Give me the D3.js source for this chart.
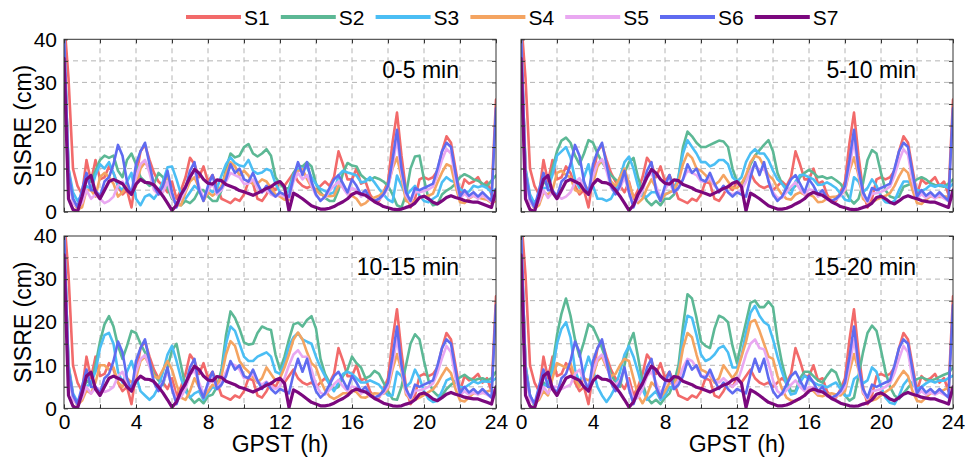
<!DOCTYPE html>
<html>
<head>
<meta charset="utf-8">
<script src="https://cdn.jsdelivr.net/npm/d3@7"></script>
<style>
  body { margin: 0; background: #fff; }
  svg text { font-family: "Liberation Sans", Arial, sans-serif; fill: #000; }
</style>
</head>
<body>
<svg id="chart" width="965" height="459"></svg>
<script>
// Sample epochs: every 15 minutes over one GPST day
const hours = d3.range(97).map(i => i / 4);

const seriesNames = ["S1", "S2", "S3", "S4", "S5", "S6", "S7"];
const panelLabels = ["0-5 min", "5-10 min", "10-15 min", "15-20 min"];
const yTickLabels = [0, 10, 20, 30, 40];
const xTickLabels = [0, 4, 8, 12, 16, 20, 24];

// SISRE (cm) series; S1, S6 and S7 are common to all four prediction windows
const s1 = [45,31,10,6,4,12,7,12,7.5,8,
  10.5,9,6,4,5,1,8,14,15.5,12,
  9,7,6,4.5,7,3,5,8,12.5,11,
  8,10.5,7,8.5,6,3,2.5,2,3,2.5,
  4,7,6.5,3,2.5,4,6,5,7,6,
  7.5,9,7,6,5.5,6,5,6,7,6,
  8,14,11,7.5,7.5,10,6.5,7,4,2.5,
  2.5,4.5,7,16,23,13,5,1,3,7.5,
  8,7.5,8,9.5,14,17.5,16,10,4,7.5,
  6.5,7,8,6,7,4,26];

const s6 = [42,9,3,1,5,9,5,5,3.5,7,
  8,11,15.5,13,7,4,11,14,16,11,
  6,4,6,9.5,4.5,1,4,5.5,9.5,11.5,
  5,2.5,6,8.5,4.5,5.5,7.5,11,9,10,
  7.5,7,9,6.5,4.5,6,4.5,3.5,4.5,4,
  3.5,8,11.5,8.5,11.5,7,4,2.5,3.5,5.5,
  7.5,8.5,6.5,4.5,7.5,6,4,5,3,2.5,
  3,4,6,12,19,10,4.5,2.5,5.5,5,
  5.5,6,6.5,10,14,16,15,9,3.5,5,
  3.7,4.5,3.5,4.5,3.5,2.5,24];

const s7 = [35.6,3,0.5,0,3.5,7.5,8.4,4.5,3,5,
  7,7.5,7,6.5,5,4,6.4,7.5,6.8,6.7,
  6.2,5,3.6,2,0.3,1.5,4,5.8,8,9.8,
  9,7.5,6.6,6.4,7.4,7.2,6.3,5.9,5.5,4.9,
  4.6,4.2,3.8,4.3,4.8,5.4,5.8,6.6,7,5.8,
  0.2,4.3,3.7,3,2.2,1.4,1,0.6,0.6,0.8,
  1.2,1.8,2.3,3,4,4.5,4.1,3.8,3.1,2.3,
  1.8,1.2,0.9,0.6,0.5,0.6,1,1.3,2,3.3,
  3.6,3,2.2,1.8,2.5,3.3,3.7,3.3,3,2.6,
  2.4,2.2,2.2,1.8,1.4,1,5];

// S2 per window (a: 0-5, b: 5-10, c: 10-15, d: 15-20 min)
const s2a = [40,10,3,1,4,8,7,9.5,12,13,
  12.5,13,9.5,8,12,13.5,11,8,7,6,
  6.5,9,8,5.5,3,2,1.5,2.5,2,3,
  5,5,3.5,2.5,2.5,5,10,13.5,12.6,13,
  15,15.7,13.5,12.8,13.5,14.5,13,8,6.5,5.3,
  5.5,9,10.7,10.5,11.5,10.5,6.5,4.5,3.2,2.5,
  2.5,5,9,11.3,10.7,10.5,8.5,7.6,7.3,8,
  7.6,7,6,4,1.5,1,4,10,12.8,13,
  7.5,3,1.5,1.8,4,4.9,5.5,6.5,8,8.7,
  8.2,7.5,7.2,6.5,6,7.2,8.4];
const s2b = [40,10,3,0.8,3.5,7,6,10,14,16.5,
  17.2,16,13,11,13.5,16.6,16,13.5,11.5,10,
  8.5,7.5,6.5,9,11.5,12.5,8,4.5,2.5,1.5,
  2.5,1.5,3,3,4,8,15,18.6,17.5,16,
  15,15,15.5,16,16.5,16.3,15,10,7,6.5,
  8,11,13,14.3,15.5,16.6,14,9,6.5,5.5,
  5,6,8,9,9.7,9,8,8.2,7.7,8,
  7.3,6.5,5,3,1.9,3,6.6,12,14.3,13.5,
  9,5,3.5,3.2,3.5,5.8,6.2,6.6,7.5,8,
  7.5,6.6,6.2,6,5.8,6.5,7.5];
const s2c = [40,10,3,0.7,3,6.5,5.5,10,15.5,19.5,
  21.4,19,14.5,11.5,14.5,18,17.5,15,13,10.5,
  8,6.5,5.5,9.5,13.5,15,10,5,2.5,1.3,
  2.2,1.2,2.8,3.2,5,9,17,22.5,21,18.5,
  15.3,14.8,15,17.5,19,18.5,18.2,12.5,9,12,
  16,19.5,19.9,19,20.5,21.4,18.5,11.5,8,6,
  4.5,5,7.5,9,12,10.5,9.5,7,7.5,8.7,
  8,6,4,2.2,2,5,10,15,17.2,16,
  11,6.5,4,3,3,4.5,5.5,6.2,7.2,7.8,
  7,6.5,6.8,7,6.5,7,8.5];
const s2d = [40,10,3,0.5,3,6,5,10,17,22,
  25.5,21.5,16,12,15.5,19.5,18.8,16.5,14,11,
  8,6,5,10,15,17.5,12,6,2.5,1.2,
  2,1,2.5,3.5,6,10,19,26.5,25.5,21,
  15.5,14.5,14,18.5,21.5,21,20,14.5,10.5,15.5,
  20,24.5,25,23.5,23.5,24.8,23.5,16,10.5,6.5,
  4,4,7,8.5,8.5,7.5,6.5,6,7.6,9,
  8.3,5.5,3,1.8,2.5,7.5,13,17.5,19.2,18,
  13.5,8.5,5,3,2.2,3.5,4.8,6,6.8,7.2,
  6.8,6.4,6.8,7.3,7.8,8.2,9.5];

// S3 per window
const s3a = [40,10,4.5,2.5,4,6,5,8.5,11,10,
  11.5,9,6,5,7,9,3,1.5,3.5,4,
  3,4.5,7,10.3,10.5,7.5,4,3,4.5,6,
  5,3,5.3,4.5,5.5,8.4,11,12.6,11.3,10.7,
  10.5,12,9.5,8.8,9.1,9.9,9.5,6.5,4.5,3.7,
  5,8.5,9.9,10,10.3,8,6.4,5.3,4.8,4.1,
  4.5,8.4,9.5,9.1,8.8,8.4,6.8,7,8,6.8,
  5.3,4,2.8,2.2,8.4,6,3.7,4.9,6,3.7,
  2.5,2.2,3,3.7,6.8,8,7.2,6.8,5.3,4.5,
  4.7,6,5.7,6,5.5,4.5,5.3];
const s3b = [40,10,4,2,3.5,5.5,5.5,8.5,13,14,
  15,12.5,7.5,5.5,8,11,6,3,3,2.5,
  3,5,8,11.5,12.8,10,6,3.5,3.5,4.5,
  4.5,2.5,4,4.5,5,8,13.5,16.6,15,13.5,
  11.5,11.5,10.5,11,12,12,11,8,7,8,
  11.5,13.5,14.5,13.5,13.5,12,9.5,7.5,6.5,5,
  4,7,8.5,8.5,8,7.5,6.2,6.3,6.8,6.2,
  5.5,4.2,2.8,2.5,8,7,4.5,5.5,7.5,6,
  3.5,2.2,2,2.5,5,7,7,6.2,5,4.8,
  5.3,6.2,5.8,6.2,6,5.5,6.5];
const s3c = [40,10,3.5,1.5,3.5,5,6,8.5,14,17,
  17.5,15,8.5,6,8.5,11,7.5,4,3,2,
  3,5,8.5,12.5,14.5,11,7,4,2.5,3.5,
  4,2,3.5,5,4.5,8,15,19,18,15,
  12,11,11,12,12.5,13,12,8.5,8,10.5,
  14.5,16.5,17.5,16,15.5,15,12,9.5,7.5,5.5,
  4,6,8,8.5,8,7,6,6,6.5,6,
  5.5,4.2,3,3,8.5,7.5,5,6,9,7,
  4,2.2,1.5,1.8,4,6.5,7,6,5,4.8,
  5.5,6.3,5.8,6.3,6.2,6.2,7];
const s3d = [40,10,3,1,3,5,6,8.5,15,18.5,
  20,16.5,9,6,8.5,12,9,5,3,1.5,
  3,5,8.5,12.5,14.5,12,8.5,4.5,2,3,
  4,2,3,5,4.5,8,16.5,21.5,21,17,
  12.5,11,11.5,12.5,14,14.5,13,9.5,9.5,12.2,
  17.6,22.2,23.8,21.5,20,19.3,16,12,8.5,5.5,
  3.2,3.5,6,7.6,6.8,6,5.5,5.3,4.9,5.5,
  6,4.5,2.9,3,6.8,7.6,5.8,6.5,9.5,8.5,
  5,2.5,1.3,1,2.9,5.5,6.8,5.6,4.5,5,
  5.8,6.4,6,6.5,6.4,7,7.6];

// S4 per window
const s4a = [40,9,2.5,0.5,1,5,5,3.5,8,9,
  8,6.5,3.5,4.5,6,4,6,10,11.5,10,
  6.5,4,6,8.5,3.5,1.5,1.5,4.5,7,8,
  5.5,2.5,4.5,3.7,4.5,6,9,11.5,10.5,8.4,
  9.5,8.4,6.4,6.5,7.5,7,5.5,4,3.5,2.8,
  2.8,8,9.4,9.9,7.6,5.7,5,4,3.7,3.6,
  3.7,6,6,4.5,3.7,3,1.5,2,3,3.3,
  3.7,4.5,6,10,12.6,8,2.5,2,2.5,3.2,
  3.5,3.7,4.2,6.8,9.1,11,10.5,6,2.2,2,
  3,3.7,3.3,3,2.8,2,2.5];
const s4b = [40,9,2.5,0.7,1.5,4.5,4,5,9,9.5,
  8.5,8,5,4.5,6.5,5,6.5,10.5,12,10,
  7,6,8,10,6.5,3.5,2,3,5.5,7.5,
  5.5,2.5,4,4.5,5,7,11,13.5,12.5,10,
  9.5,8.5,7,6.2,7,8.5,7,5.5,5.5,6.5,
  8.5,11.5,13,12.5,10.5,8.5,7.5,5.5,4,3,
  2.8,4,4.5,4,4,3.5,2.2,2.3,3,3.4,
  3.5,3.8,5,9.5,12.6,8.5,3,2.1,2.2,2.8,
  3.2,3.7,4.3,6,8.2,10,9,5,2,1.8,
  2.8,3.6,3.5,3.4,3.5,3.5,3.5];
const s4c = [40,9,2.5,0.8,1.8,4.2,3.5,6,10,10,
  9,9.5,6,5,7,6,7,11,12,10,
  7.5,7,9,11,9,5.5,2.5,2,4,7,
  5,2.5,4,5.5,5.2,7.5,12.5,15.6,14.5,11,
  9.5,8.5,7.2,6,7,9.5,8,6.5,7,9.5,
  12.5,16,17.6,16,13,10.5,9.5,6.5,4.2,2.8,
  2.2,2.8,3.5,3.5,4.2,3.8,2.6,2.5,3.1,3.5,
  3.4,3.4,4.5,9,12.6,8.8,3.2,2.1,2,2.5,
  3.1,3.8,4.4,5.8,7.7,9.4,8.2,4.5,1.9,1.6,
  2.6,3.5,3.6,3.6,3.9,4.2,4];
const s4d = [40,9,2.5,1,2,4,3,7,10.5,10,
  9.5,10.5,7,5,7,6.5,7.5,11,12,9.5,
  7.5,8,10,11.5,11,7,3,1.2,3,6,
  5,2.5,4,6,5.5,8,14,17.5,16.5,12.5,
  9,8.5,7.5,6,7,10,8.5,7,8.5,12,
  15.5,20,20.5,18,15,12,11.5,7.5,4.5,2.5,
  1.8,1.6,2.4,3,4.5,4,3,2.8,3.2,3.5,
  3.2,3,4,8.5,12.6,9,3.5,2.2,1.8,2.2,
  3,3.8,4.5,5.5,7.2,8.7,7.5,4,1.8,1.5,
  2.5,3.5,3.7,3.9,4.3,4.9,4.5];

// S5 per window
const s5a = [40,8,2,1,2,5,3,4,3,2,
  2.5,3.5,6,7,5,4,8,11,12,9,
  5,4,4.5,7,3.5,1.5,3,5,8.5,9.5,
  6,3,5,6.5,4,5,7,9,8.5,8,
  6.5,6.5,7.5,5.5,4.5,5,4,3.5,4,3.5,
  3.2,7,9,7.5,8.5,6,3.8,2.8,3.2,4.8,
  6,7,5.5,4,5.5,5,3.5,4.2,2.8,2.4,
  2.8,3.8,5.5,10.5,17,9,3.8,2.2,4.5,4.5,
  4.8,5.2,5.8,8.5,12,14.6,13.5,7.5,3,4.2,
  3.2,3.8,3,3.8,3,2.2,3];
const s5b = [40,8,2,1,2.2,5,3.2,4.5,3.8,3,
  3.5,4.5,6.8,7.8,5.5,4.5,8.2,11.2,12.2,9.5,
  5.5,4.5,5.5,8,4.5,1.8,2.8,4.8,8,9,
  6,3.2,5.2,6.8,4.5,5.5,7.5,9.5,9,8.5,
  7,7,7.8,6,5,5.5,4.5,4,4.5,5,
  7,9.5,11,9.5,10,7.5,4.5,3.2,3.2,4.5,
  5.8,6.8,5.2,4,5.2,4.9,3.5,4.1,2.8,2.4,
  2.8,3.7,5.2,10.2,16.5,9.2,3.8,2.2,4.2,4.3,
  4.6,5.1,5.8,8.4,11.8,14.5,13.2,7.2,3,4.1,
  3.2,3.8,3.1,3.8,3.1,2.4,3.2];
const s5c = [40,8,2,1,2.4,5,3.4,4.8,4.5,3.8,
  4.2,5,7.5,8.5,6,4.8,8.4,11.4,12.4,9.8,
  6,5,6,8.5,5,1.9,2.6,4.6,7.8,8.8,
  6,3.4,5.4,7,4.8,6,8.5,10.5,10,9,
  7,7.2,8,6.2,5.5,6.2,5.2,4.5,5.2,7,
  10,12.5,13.5,12,12,9,5.5,3.6,3.2,4.3,
  5.6,6.6,5.1,4,5.1,4.8,3.4,4,2.8,2.4,
  2.8,3.6,5.1,10.1,16.2,9.4,3.8,2.2,4.1,4.2,
  4.5,5,5.8,8.3,11.6,14.5,13,7.1,3,4,
  3.2,3.7,3.2,3.7,3.2,2.5,3.4];
const s5d = [40,8,2,1,2.5,5,3.5,5,5,4.5,
  5,5.5,8,9,6.5,5,8.5,11.5,12.5,10,
  6.5,5.5,6.5,9,5.5,2,2.5,4.5,7.5,8.5,
  6,3.5,5.5,7,5,6.5,9.5,11.5,11,9.5,
  7.5,7.5,8,6.5,6,7,6,5,6,9,
  12.5,15,16,14,13.7,10.5,6.5,4,3.2,4.2,
  5.5,6.5,5,4,5,4.8,3.4,4,2.8,2.5,
  2.8,3.6,5,10,16,9.5,3.8,2.2,4,4.2,
  4.5,5,5.8,8.2,11.5,14.5,13,7,3,4,
  3.2,3.7,3.2,3.8,3.2,2.6,3.5];

const colors = ["#f26a6a", "#5cb895", "#4bbef4", "#f4a461", "#e9a8f1", "#5f6bf0", "#7b087e"];
const widths = [2.6, 2.6, 2.6, 2.6, 2.6, 2.6, 3.2];

const panelW = 432, panelH = 172.4;
const panels = [
  { label: panelLabels[0], left: 64,  top: 39.3, series: [s1, s2a, s3a, s4a, s5a, s6, s7], yLabels: true,  xLabels: false },
  { label: panelLabels[1], left: 521, top: 39.3, series: [s1, s2b, s3b, s4b, s5b, s6, s7], yLabels: false, xLabels: false },
  { label: panelLabels[2], left: 64,  top: 236,  series: [s1, s2c, s3c, s4c, s5c, s6, s7], yLabels: true,  xLabels: true },
  { label: panelLabels[3], left: 521, top: 236,  series: [s1, s2d, s3d, s4d, s5d, s6, s7], yLabels: false, xLabels: true }
];

const svg = d3.select("#chart");
const FONT = '"Liberation Sans", Arial, sans-serif';

const x = d3.scaleLinear().domain([0, 24]).range([0, panelW]);
const y = d3.scaleLinear().domain([0, 40]).range([panelH, 0]);
const line = d3.line().x((d, i) => x(hours[i])).y(d => y(d));

panels.forEach((p, pi) => {
  const g = svg.append("g").attr("transform", `translate(${p.left},${p.top})`);

  // dashed grid
  g.append("g").selectAll("line.vg").data(d3.range(2, 24, 2)).join("line")
    .attr("x1", d => x(d)).attr("x2", d => x(d)).attr("y1", 0).attr("y2", panelH)
    .attr("stroke", "#b4b4b4").attr("stroke-width", 1).attr("stroke-dasharray", "5,4");
  g.append("g").selectAll("line.hg").data(d3.range(5, 40, 5)).join("line")
    .attr("x1", 0).attr("x2", panelW).attr("y1", d => y(d)).attr("y2", d => y(d))
    .attr("stroke", "#b4b4b4").attr("stroke-width", 1).attr("stroke-dasharray", "5,4");

  // series
  const clipId = "clip" + pi;
  g.append("clipPath").attr("id", clipId).append("rect")
    .attr("x", 0).attr("y", 0).attr("width", panelW).attr("height", panelH);
  const lines = g.append("g").attr("clip-path", `url(#${clipId})`);
  p.series.forEach((vals, si) => {
    lines.append("path").datum(vals)
      .attr("d", line)
      .attr("fill", "none")
      .attr("stroke", colors[si])
      .attr("stroke-width", widths[si])
      .attr("stroke-linejoin", "round")
      .attr("stroke-linecap", "round");
  });

  // frame and inward ticks
  g.append("rect").attr("width", panelW).attr("height", panelH)
    .attr("fill", "none").attr("stroke", "#333").attr("stroke-width", 1);
  const tickAxes = [
    [d3.axisBottom(x).tickValues(d3.range(0, 25, 2)), `translate(0,${panelH})`],
    [d3.axisTop(x).tickValues(d3.range(0, 25, 2)), null],
    [d3.axisLeft(y).tickValues(d3.range(0, 41, 5)), null],
    [d3.axisRight(y).tickValues(d3.range(0, 41, 5)), `translate(${panelW},0)`]
  ];
  tickAxes.forEach(([ax, tr]) => {
    const a = g.append("g").call(ax.tickSize(-4).tickFormat(""));
    if (tr) a.attr("transform", tr);
    a.select(".domain").remove();
    a.selectAll("line").attr("stroke", "#333");
  });

  // tick labels
  if (p.yLabels) {
    const ay = g.append("g").call(d3.axisLeft(y).tickValues(yTickLabels).tickSize(0).tickPadding(7));
    ay.select(".domain").remove();
    ay.selectAll("text").attr("font-size", 21).attr("font-family", FONT).attr("fill", "#000");
    g.append("text")
      .attr("transform", `translate(-33,${panelH / 2}) rotate(-90)`)
      .attr("text-anchor", "middle")
      .attr("font-size", 23)
      .text("SISRE (cm)");
  }
  if (p.xLabels) {
    const axb = g.append("g").attr("transform", `translate(0,${panelH})`)
      .call(d3.axisBottom(x).tickValues(xTickLabels).tickSize(0).tickPadding(6).tickFormat(d3.format("d")));
    axb.select(".domain").remove();
    axb.selectAll("text").attr("font-size", 21).attr("font-family", FONT).attr("fill", "#000");
    g.append("text")
      .attr("x", panelW / 2).attr("y", panelH + 44)
      .attr("text-anchor", "middle")
      .attr("font-size", 23)
      .text("GPST (h)");
  }

  // window label
  g.append("text")
    .attr("x", panelW - 37).attr("y", 39)
    .attr("text-anchor", "end")
    .attr("font-size", 23)
    .text(p.label);
});

// legend
const legend = svg.append("g").attr("transform", "translate(186,17)");
seriesNames.forEach((name, i) => {
  const lg = legend.append("g").attr("transform", `translate(${i * 94.8},0)`);
  lg.append("line").attr("x1", 0).attr("x2", 55).attr("y1", 0).attr("y2", 0)
    .attr("stroke", colors[i]).attr("stroke-width", 4);
  lg.append("text").attr("x", 58).attr("y", 8).attr("font-size", 21).text(name);
});
</script>
</body>
</html>
